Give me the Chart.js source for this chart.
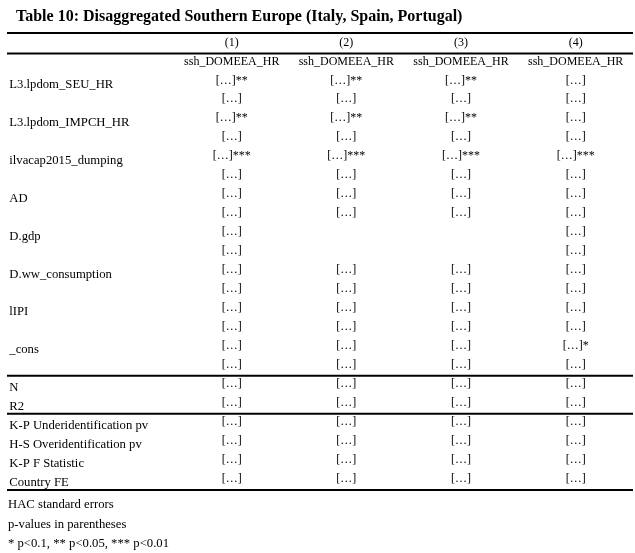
<!DOCTYPE html>
<html>
<head>
<meta charset="utf-8">
<script src="https://cdn.jsdelivr.net/npm/chart.js@4/dist/chart.umd.min.js"></script>
<style>
  body { margin: 0; background: #fff; }
  #wrap { width: 635px; height: 553px; }
</style>
</head>
<body>
<div id="wrap"><canvas id="chart1"></canvas></div>
<script>
// table content
var tableTitle = "Table 10: Disaggregated Southern Europe (Italy, Spain, Portugal)";
var columns = ["(1)", "(2)", "(3)", "(4)"];
var depVars = ["ssh_DOMEEA_HR", "ssh_DOMEEA_HR", "ssh_DOMEEA_HR", "ssh_DOMEEA_HR"];
var varLabels = ["L3.lpdom_SEU_HR", "L3.lpdom_IMPCH_HR", "ilvacap2015_dumping", "AD",
                 "D.gdp", "D.ww_consumption", "lIPI", "_cons"];
var coef1 = ["[…]**", "[…]**", "[…]***", "[…]", "[…]", "[…]", "[…]", "[…]"];
var coef2 = ["[…]**", "[…]**", "[…]***", "[…]", "", "[…]", "[…]", "[…]"];
var coef3 = ["[…]**", "[…]**", "[…]***", "[…]", "", "[…]", "[…]", "[…]"];
var coef4 = ["[…]", "[…]", "[…]***", "[…]", "[…]", "[…]", "[…]", "[…]*"];
var se1 = ["[…]", "[…]", "[…]", "[…]", "[…]", "[…]", "[…]", "[…]"];
var se2 = ["[…]", "[…]", "[…]", "[…]", "", "[…]", "[…]", "[…]"];
var se3 = ["[…]", "[…]", "[…]", "[…]", "", "[…]", "[…]", "[…]"];
var se4 = ["[…]", "[…]", "[…]", "[…]", "[…]", "[…]", "[…]", "[…]"];
var statLabels = ["N", "R2", "K-P Underidentification pv", "H-S Overidentification pv",
                  "K-P F Statistic", "Country FE"];
var stats1 = ["[…]", "[…]", "[…]", "[…]", "[…]", "[…]"];
var stats2 = ["[…]", "[…]", "[…]", "[…]", "[…]", "[…]"];
var stats3 = ["[…]", "[…]", "[…]", "[…]", "[…]", "[…]"];
var stats4 = ["[…]", "[…]", "[…]", "[…]", "[…]", "[…]"];
var notes = ["HAC standard errors", "p-values in parentheses", "* p<0.1, ** p<0.05, *** p<0.01"];

var coefs = [coef1, coef2, coef3, coef4];
var ses = [se1, se2, se3, se4];
var stats = [stats1, stats2, stats3, stats4];

// rows: -2 header, -1 dep var, 0..15 coef/se pairs, 16.. stats
var firstStatRow = varLabels.length * 2;
var rulesAfter = [-2, firstStatRow - 1, firstStatRow + 1];

var serif = "'Liberation Serif', 'Times New Roman', serif";

function cellPoints(col) {
  var pts = [{x: col + 1, y: -2, t: columns[col]}, {x: col + 1, y: -1, t: depVars[col]}];
  varLabels.forEach(function (v, i) {
    if (coefs[col][i]) pts.push({x: col + 1, y: i * 2, t: coefs[col][i]});
    if (ses[col][i]) pts.push({x: col + 1, y: i * 2 + 1, t: ses[col][i]});
  });
  statLabels.forEach(function (s, j) {
    pts.push({x: col + 1, y: firstStatRow + j, t: stats[col][j]});
  });
  return pts;
}

// row labels sit a little under their first value line
var labelPts = varLabels.map(function (v, i) { return {x: -0.94, y: i * 2 + 0.22, t: v}; })
  .concat(statLabels.map(function (s, j) { return {x: -0.94, y: firstStatRow + j + 0.2, t: s}; }));

var datasets = [{data: labelPts, align: "left", font: "12.7px "}];
for (var c = 0; c < columns.length; c++) datasets.push({data: cellPoints(c), align: "center", font: "12px "});
datasets.forEach(function (d) { d.pointRadius = 0; d.showLine = false; });

var tablePlugin = {
  id: "tableText",
  afterDatasetsDraw: function (chart) {
    var ctx = chart.ctx, area = chart.chartArea, y = chart.scales.y;
    ctx.save();
    ctx.fillStyle = "#000";
    // title
    ctx.font = "bold 16px " + serif;
    ctx.textAlign = "left";
    ctx.textBaseline = "middle";
    ctx.fillText(tableTitle, area.left + 9, area.top - 15);
    // rules
    ctx.strokeStyle = "#000";
    ctx.lineWidth = 2;
    var ruleYs = [area.top + 1, area.bottom - 1];
    rulesAfter.forEach(function (r) { ruleYs.push(y.getPixelForValue(r + 0.58)); });
    ruleYs.forEach(function (py) {
      ctx.beginPath();
      ctx.moveTo(area.left, py);
      ctx.lineTo(area.right, py);
      ctx.stroke();
    });
    // cells
    chart.data.datasets.forEach(function (ds, di) {
      var meta = chart.getDatasetMeta(di);
      ctx.textAlign = ds.align;
      ctx.font = ds.font + serif;
      meta.data.forEach(function (el, i) {
        ctx.fillText(ds.data[i].t, el.x, el.y);
      });
    });
    // notes
    ctx.font = "12.7px " + serif;
    ctx.textAlign = "left";
    notes.forEach(function (n, i) {
      ctx.fillText(n, area.left + 1, area.bottom + 14 + i * 19.5);
    });
    ctx.restore();
  }
};

new Chart(document.getElementById("chart1"), {
  type: "scatter",
  data: {datasets: datasets},
  options: {
    responsive: true,
    maintainAspectRatio: false,
    animation: false,
    events: [],
    layout: {padding: {left: 7, right: 2, top: 32, bottom: 62}},
    scales: {
      x: {type: "linear", min: -0.96, max: 4.5, display: false},
      y: {type: "linear", reverse: true, min: -2.55, max: 21.65, display: false}
    },
    plugins: {
      legend: {display: false},
      tooltip: {enabled: false}
    }
  },
  plugins: [tablePlugin]
});
</script>
</body>
</html>
